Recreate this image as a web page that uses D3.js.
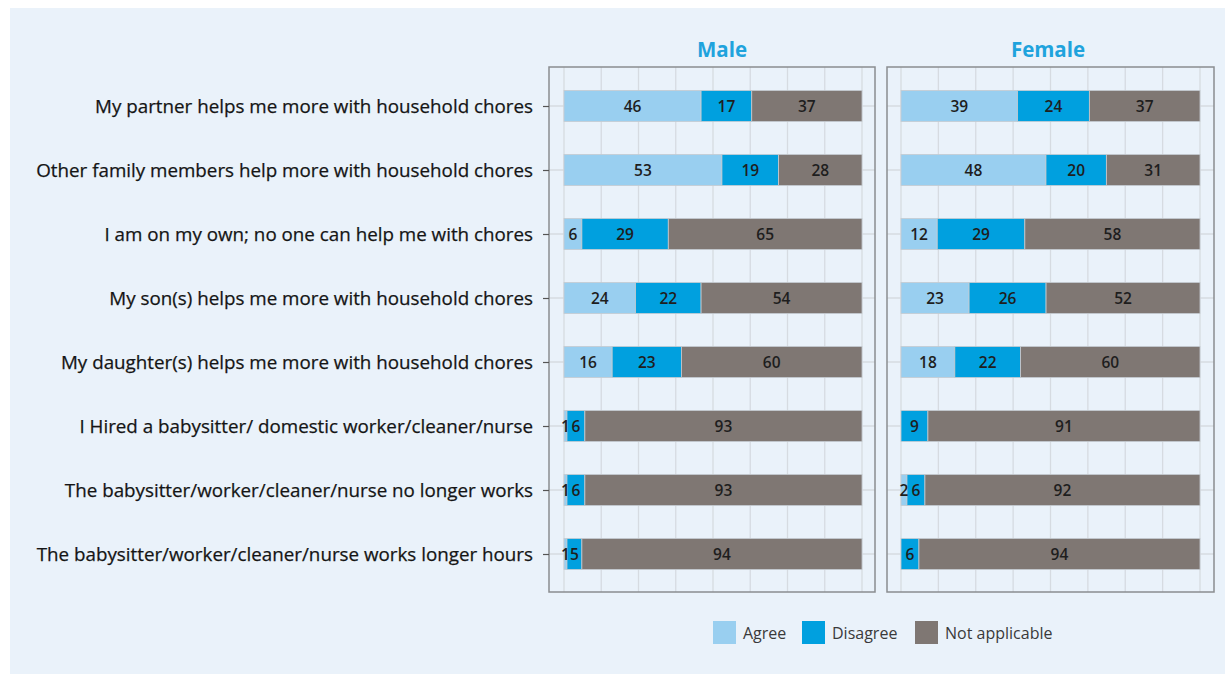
<!DOCTYPE html>
<html><head><meta charset="utf-8">
<script src="https://cdn.jsdelivr.net/npm/d3@7"></script>
<style>
html,body{margin:0;padding:0;background:#fff;}
svg{display:block;}
text{font-family:"Open Sans",sans-serif;}
</style></head>
<body><svg id="c" width="1225" height="674"></svg>
<script>
const categories = [
  "My partner helps me more with household chores",
  "Other family members help more with household chores",
  "I am on my own; no one can help me with chores",
  "My son(s) helps me more with household chores",
  "My daughter(s) helps me more with household chores",
  "I Hired a babysitter/ domestic worker/cleaner/nurse",
  "The babysitter/worker/cleaner/nurse no longer works",
  "The babysitter/worker/cleaner/nurse works longer hours"
];
const seriesNames = ["Agree","Disagree","Not applicable"];
const seriesColors = ["#99cff0","#00a0df","#7f7773"];
const panels = ["Male","Female"];
const maleAgree      = [46,53,6,24,16,1,1,1];
const maleDisagree   = [17,19,29,22,23,6,6,5];
const maleNA         = [37,28,65,54,60,93,93,94];
const femaleAgree    = [39,48,12,23,18,0,2,0];
const femaleDisagree = [24,20,29,26,22,9,6,6];
const femaleNA       = [37,31,58,52,60,91,92,94];
const xTicks = [0,12.5,25,37.5,50,62.5,75,87.5,100];

const svg = d3.select("#c");
svg.append("rect").attr("x",10).attr("y",8).attr("width",1215).attr("height",666).attr("fill","#eaf2fa");

const y = d3.scalePoint().domain(categories).range([106,554]);
const barH = 31;

const panelDefs = [
  {name:panels[0], frame:[549,67,326,525], range:[564,862], titleX:722, vals:[maleAgree,maleDisagree,maleNA]},
  {name:panels[1], frame:[887,67,327,525], range:[901,1200], titleX:1048, vals:[femaleAgree,femaleDisagree,femaleNA]}
];

panelDefs.forEach((p,pi)=>{
  const x = d3.scaleLinear().domain([0,1]).range(p.range);
  const [fx,fy,fw,fh] = p.frame;
  const g = svg.append("g");
  g.selectAll("line.v").data(xTicks).join("line")
    .attr("x1",d=>x(d/100)).attr("x2",d=>x(d/100)).attr("y1",fy).attr("y2",fy+fh)
    .attr("stroke","#d6dbe1").attr("stroke-width",1.3);
  g.selectAll("line.h").data(categories).join("line")
    .attr("x1",fx).attr("x2",fx+fw).attr("y1",d=>y(d)).attr("y2",d=>y(d))
    .attr("stroke","#d6dbe1").attr("stroke-width",1.3);
  const rows = categories.map((c,i)=>({cat:c, Agree:p.vals[0][i], Disagree:p.vals[1][i], "Not applicable":p.vals[2][i]}));
  const stack = d3.stack().keys(seriesNames).offset(d3.stackOffsetExpand)(rows);
  stack.forEach((s,si)=>{
    g.append("g").selectAll("rect").data(s).join("rect")
      .attr("x",d=>x(d[0])).attr("width",d=>Math.max(0,x(d[1])-x(d[0])))
      .attr("y",d=>y(d.data.cat)-barH/2).attr("height",barH)
      .attr("fill",seriesColors[si])
      .attr("stroke",d=>d[1]-d[0]>0?"#c5cbd1":"none").attr("stroke-width",0.8);
  });
  stack.forEach((s,si)=>{
    g.append("g").selectAll("text").data(s.filter(d=>d.data[s.key]>0)).join("text")
      .attr("x",d=>(x(d[0])+x(d[1]))/2).attr("y",d=>y(d.data.cat)+5.5)
      .attr("text-anchor","middle").attr("font-size",15.5).attr("font-weight",600)
      .attr("fill","#1e1e1e").text(d=>d.data[s.key]);
  });
  g.append("rect").attr("x",fx).attr("y",fy).attr("width",fw).attr("height",fh)
    .attr("fill","none").attr("stroke","#8a8d90").attr("stroke-width",1.5);
  svg.append("text").attr("x",p.titleX).attr("y",57).attr("text-anchor","middle")
    .attr("font-size",20.5).attr("font-weight",700).attr("fill","#1fa3dd").text(p.name);
});

const axis = d3.axisLeft(y).tickSize(6).tickPadding(10);
const ag = svg.append("g").attr("transform","translate(549,0)").call(axis);
ag.select(".domain").remove();
ag.selectAll(".tick line").attr("stroke","#555").attr("stroke-width",1.2);
ag.selectAll(".tick text").attr("font-size",18.8).attr("fill","#151515")
  .attr("stroke","#151515").attr("stroke-width",0.25)
  .attr("font-family","'Open Sans',sans-serif").attr("dy","0.36em");

const legX = [713,802,915];
const lg = svg.append("g");
seriesNames.forEach((n,i)=>{
  lg.append("rect").attr("x",legX[i]).attr("y",621).attr("width",23).attr("height",23).attr("fill",seriesColors[i]);
  lg.append("text").attr("x",legX[i]+30).attr("y",639).attr("font-size",16).attr("fill","#3a3a3a").text(n);
});
</script></body></html>
